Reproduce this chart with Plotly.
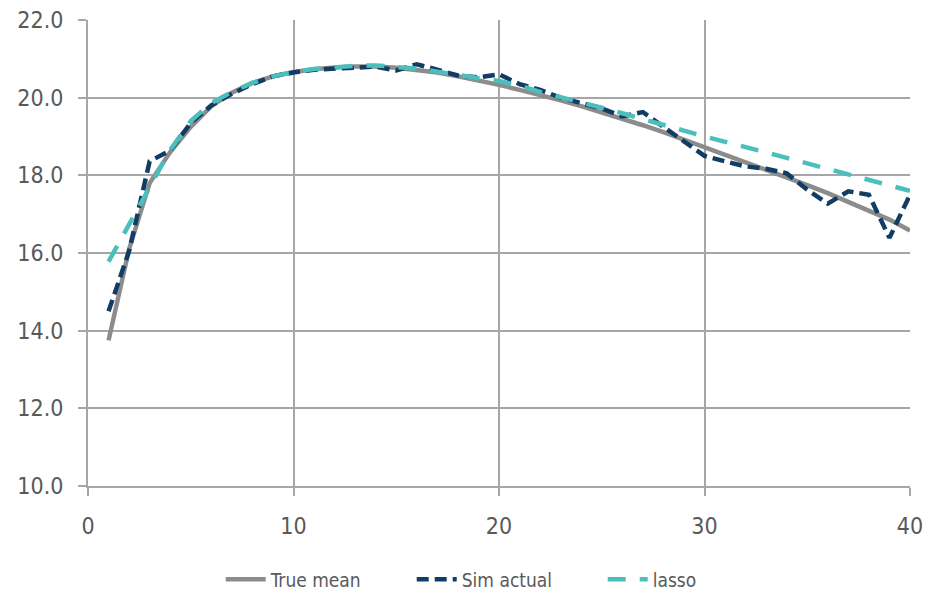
import plotly.graph_objects as go

x_vals = list(range(1, 41))

true_mean = [13.75, 16.1, 17.8, 18.6, 19.25, 19.78, 20.13, 20.38, 20.55, 20.66,
             20.73, 20.78, 20.8, 20.8, 20.77, 20.72, 20.65, 20.55, 20.45, 20.33,
             20.2, 20.07, 19.93, 19.78, 19.62, 19.46, 19.29, 19.11, 18.92, 18.73,
             18.54, 18.35, 18.16, 17.96, 17.75, 17.54, 17.32, 17.1, 16.86, 16.58]

sim_actual = [14.5, 16.05, 18.36, 18.64, 19.35, 19.8, 20.1, 20.35, 20.55, 20.65,
              20.72, 20.75, 20.77, 20.8, 20.7, 20.86, 20.72, 20.57, 20.52, 20.6,
              20.35, 20.2, 20.0, 19.86, 19.72, 19.52, 19.63, 19.25, 18.88, 18.5,
              18.36, 18.23, 18.17, 18.05, 17.63, 17.27, 17.59, 17.5, 16.39, 17.5]

lasso = [15.78, 16.75, 17.7, 18.65, 19.4, 19.86, 20.15, 20.38, 20.55, 20.66,
         20.74, 20.79, 20.82, 20.83, 20.8, 20.75, 20.67, 20.58, 20.5, 20.43,
         20.31, 20.15, 20.02, 19.88, 19.74, 19.6, 19.46, 19.3, 19.15, 19.0,
         18.87, 18.72, 18.59, 18.45, 18.31, 18.17, 18.03, 17.88, 17.74, 17.6]

y_ticks = [10, 12, 14, 16, 18, 20, 22]
x_ticks = [0, 10, 20, 30, 40]

FONT = "DejaVu Sans Condensed, DejaVu Sans, sans-serif"
GRID = "#a6a6a6"
TXT = "#595959"

fig = go.Figure()
fig.add_trace(go.Scatter(x=x_vals, y=true_mean, mode="lines", name="True mean",
                         line=dict(color="#8c8c8c", width=4.5)))
fig.add_trace(go.Scatter(x=x_vals, y=sim_actual, mode="lines", name="Sim actual",
                         line=dict(color="#113c63", width=4.5, dash="12px,6px")))
fig.add_trace(go.Scatter(x=x_vals, y=lasso, mode="lines", name="lasso",
                         line=dict(color="#4bbfbc", width=4.5, dash="18px,14px")))

# page body has an 8px margin, so the figure is 16px smaller than the window
fig.update_layout(
    width=919, height=583,
    margin=dict(l=80, r=17, t=12, b=105, autoexpand=False),
    paper_bgcolor="white", plot_bgcolor="white",
    font=dict(family=FONT, size=22, color=TXT),
    showlegend=True,
    legend=dict(orientation="h", x=0.51, xanchor="center",
                yref="container", y=0.02, yanchor="middle",
                font=dict(family=FONT, size=19, color=TXT),
                entrywidth=136, entrywidthmode="pixels",
                itemwidth=40, traceorder="normal"),
)
fig.update_xaxes(range=[0, 40], tickvals=x_ticks, showgrid=True, gridcolor=GRID, gridwidth=2,
                 showline=True, linecolor=GRID, linewidth=2, zeroline=False,
                 ticks="outside", ticklen=8, tickcolor=GRID, tickwidth=2,
                 ticklabelstandoff=10, ticklabeloverflow="allow",
                 tickfont=dict(family=FONT, size=23, color=TXT))
fig.update_yaxes(range=[10, 22], tickvals=y_ticks, tickformat=".1f", showgrid=True,
                 gridcolor=GRID, gridwidth=2, showline=True, linecolor=GRID, linewidth=2,
                 zeroline=False, ticks="outside", ticklen=8, tickcolor=GRID, tickwidth=2,
                 ticklabelstandoff=10, ticklabeloverflow="allow",
                 tickfont=dict(family=FONT, size=23, color=TXT))

fig.write_html("out.html")
